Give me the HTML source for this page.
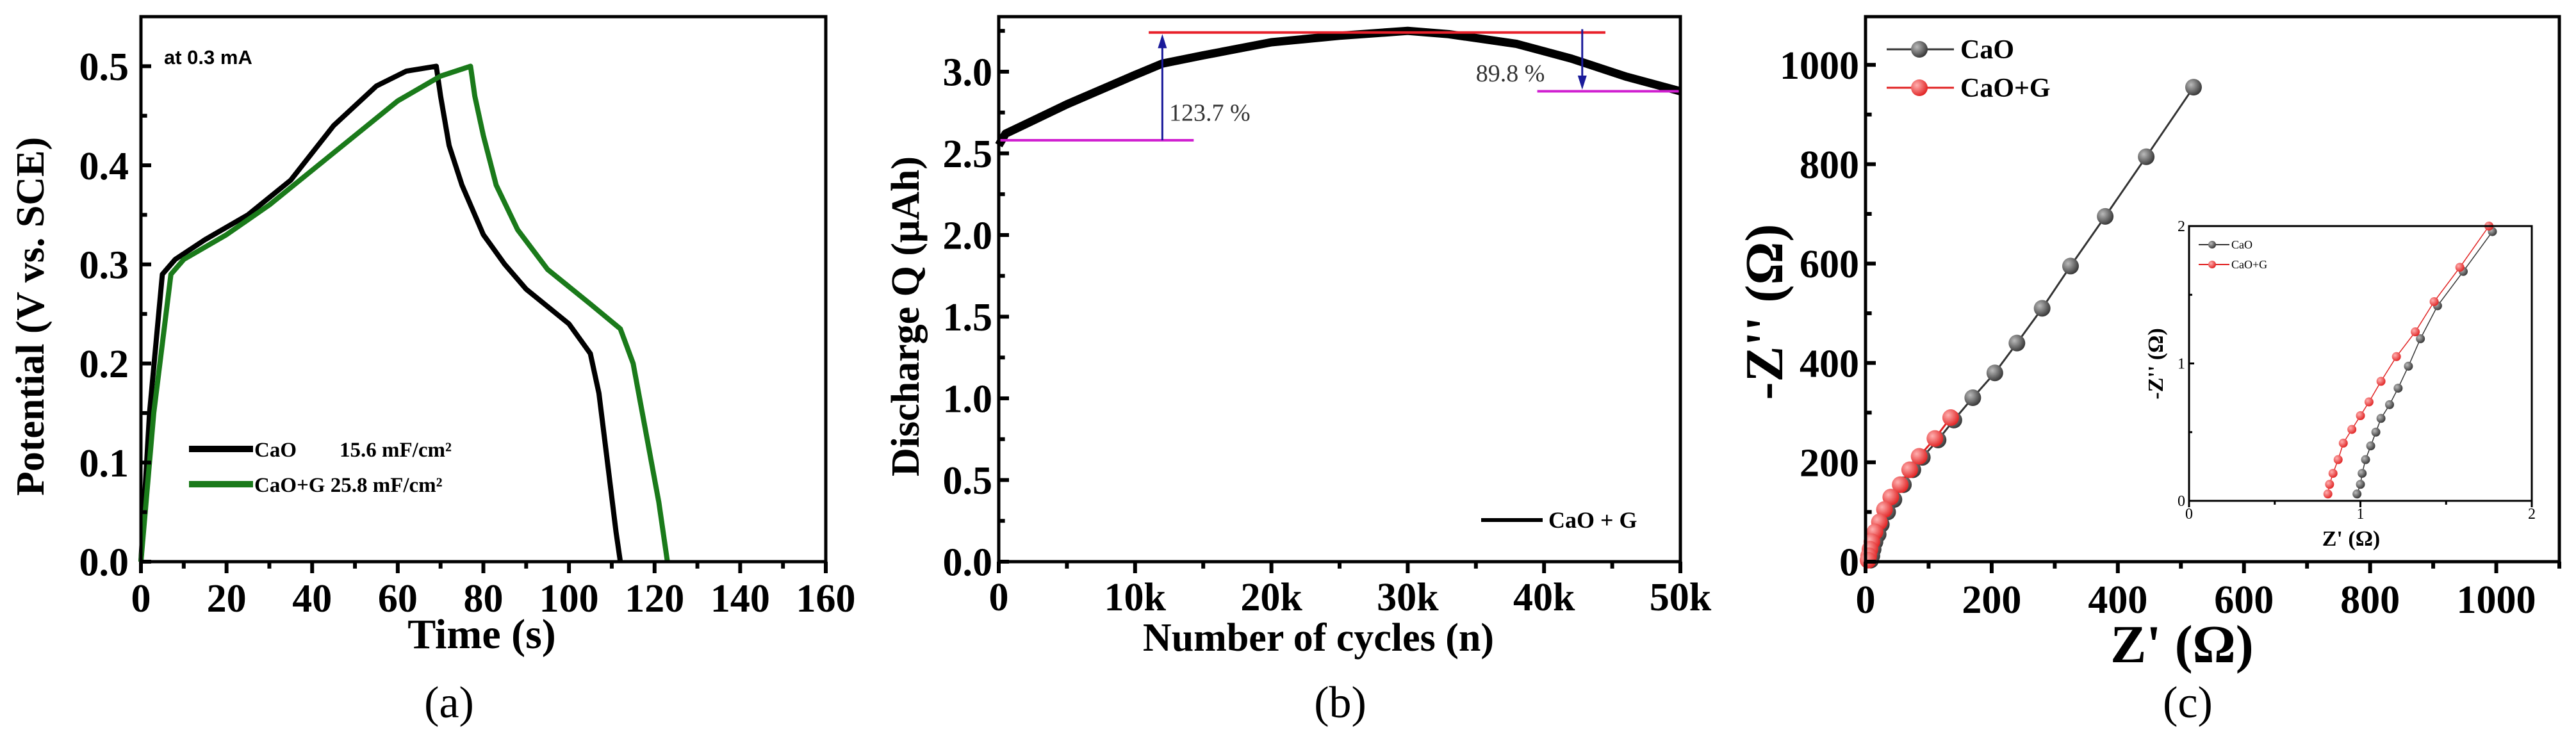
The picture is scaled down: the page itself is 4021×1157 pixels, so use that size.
<!DOCTYPE html>
<html><head><meta charset="utf-8">
<style>
html,body{margin:0;padding:0;background:#fff;}
svg{display:block;}
text{font-family:"Liberation Serif",serif;}
</style></head>
<body>
<svg id="fig" width="4021" height="1157" viewBox="0 0 4021 1157" xmlns="http://www.w3.org/2000/svg"></svg>
<script>
// ---------- Panel (a) data ----------
const aCaOT = [0,2,5,8,15,25,35,45,55,62,69,70,72,75,80,85,90,100,105,107,109,111,112];
const aCaOV = [0,0.15,0.29,0.305,0.325,0.35,0.385,0.44,0.48,0.495,0.5,0.47,0.42,0.38,0.33,0.30,0.275,0.24,0.21,0.17,0.10,0.03,0];
const aGT = [0,3,7,10,20,30,40,50,60,70,77,78,80,83,88,95,105,112,115,118,121,123];
const aGV = [0,0.15,0.29,0.305,0.33,0.36,0.395,0.43,0.465,0.49,0.5,0.47,0.43,0.38,0.335,0.295,0.26,0.235,0.20,0.13,0.06,0];
const aXTicks = [0,20,40,60,80,100,120,140,160];
const aYTicks = [0.0,0.1,0.2,0.3,0.4,0.5];
// ---------- Panel (b) data ----------
const bN = [0,500,2000,5000,10000,12000,15000,20000,25000,30000,33000,38000,42000,46000,50000];
const bQ = [2.55,2.62,2.68,2.80,2.98,3.05,3.10,3.18,3.22,3.25,3.23,3.17,3.08,2.97,2.88];
const bXTicks = [0,10000,20000,30000,40000,50000];
const bXLabels = ["0","10k","20k","30k","40k","50k"];
const bYTicks = [0.0,0.5,1.0,1.5,2.0,2.5,3.0];
// ---------- Panel (c) data ----------
const cCaOX = [520,445,380,325,280,240,205,170,140,115,90,75,60,45,35,25,20,15,12,10,8];
const cCaOY = [955,815,695,595,510,440,380,330,285,245,210,185,155,125,100,75,55,40,25,12,3];
const cGX = [135,110,85,70,55,40,30,22,15,10,7,5,4];
const cGY = [290,248,212,185,155,130,105,80,60,40,25,12,3];
const cXTicks = [0,200,400,600,800,1000];
const cYTicks = [0,200,400,600,800,1000];
const inCaOX = [0.98,1.0,1.01,1.03,1.06,1.09,1.12,1.17,1.22,1.28,1.35,1.45,1.6,1.77];
const inCaOY = [0.05,0.12,0.2,0.3,0.4,0.5,0.6,0.7,0.82,0.98,1.18,1.42,1.67,1.96];
const inGX = [0.81,0.82,0.84,0.87,0.9,0.95,1.0,1.05,1.12,1.21,1.32,1.43,1.58,1.75];
const inGY = [0.05,0.12,0.2,0.3,0.42,0.52,0.62,0.72,0.87,1.05,1.23,1.45,1.7,2.0];
const inTicks = [0,1,2];

const NS="http://www.w3.org/2000/svg";
const svg=document.getElementById('fig');
function el(tag,attrs,parent,txt){const e=document.createElementNS(NS,tag);for(const k in attrs)e.setAttribute(k,attrs[k]);if(txt!==undefined)e.textContent=txt;(parent||svg).appendChild(e);return e;}
function scale(d0,d1,r0,r1){return v=>r0+(v-d0)/(d1-d0)*(r1-r0);}
function poly(xs,ys,sx,sy){return xs.map((x,i)=>sx(x).toFixed(1)+','+sy(ys[i]).toFixed(1)).join(' ');}

function frame(g,L,R,T,B,sw){
  const r=el('rect',{x:L,y:T,width:R-L,height:B-T,fill:'none',stroke:'#000','stroke-width':sw},g);
  
  
}
function xTicks(g,vals,labels,sx,B,len,fs,dy,minor,sw){
  sw=sw||6;
  vals.forEach((v,i)=>{
    const t=el('line',{x1:sx(v),x2:sx(v),y1:B,y2:B+len,stroke:'#000','stroke-width':sw},g);
    
    
    const l=el('text',{x:sx(v),y:B+dy,'font-size':fs,'font-weight':'bold','text-anchor':'middle'},g,labels[i]);
    
    
  });
  (minor||[]).forEach(v=>{
    const t=el('line',{x1:sx(v),x2:sx(v),y1:B,y2:B+len*0.6,stroke:'#000','stroke-width':sw},g);
    
    
  });
}
function yTicks(g,vals,labels,sy,L,len,fs,dx,minor,sw){
  sw=sw||6;
  vals.forEach((v,i)=>{
    const t=el('line',{x1:L,x2:L+len,y1:sy(v),y2:sy(v),stroke:'#000','stroke-width':sw},g);
    
    
    const l=el('text',{x:L-dx,y:sy(v)+fs*0.35,'font-size':fs,'font-weight':'bold','text-anchor':'end'},g,labels[i]);
    
    
  });
  (minor||[]).forEach(v=>{
    const t=el('line',{x1:L,x2:L+len*0.6,y1:sy(v),y2:sy(v),stroke:'#000','stroke-width':sw},g);
    
    
  });
}

// ================= Panel (a) =================
{
 const g=el('g',{});
 
 
 const L=220,R=1289,T=26,B=877;
 const sx=scale(0,160,L,R), sy=scale(0,0.55,B,T);
 const p1=el('polyline',{points:poly(aCaOT,aCaOV,sx,sy),fill:'none',stroke:'#000','stroke-width':8,'stroke-linejoin':'round'},g);
 
 
 const p2=el('polyline',{points:poly(aGT,aGV,sx,sy),fill:'none',stroke:'#1a7a1a','stroke-width':8,'stroke-linejoin':'round'},g);
 
 
 frame(g,L,R,T,B,5);
 xTicks(g,aXTicks,aXTicks.map(String),sx,B,18,62,78,[10,30,50,70,90,110,130,150]);
 yTicks(g,aYTicks,aYTicks.map(v=>v.toFixed(1)),sy,L,16,62,19,[0.05,0.15,0.25,0.35,0.45]);
 const xt=el('text',{x:752,y:1012,'font-size':66,'font-weight':'bold','text-anchor':'middle'},g,'Time (s)');
 
 
 const yt=el('text',{x:0,y:0,'font-size':62,'font-weight':'bold','text-anchor':'middle',transform:'translate(68,494) rotate(-90)'},g,'Potential (V vs. SCE)');
 
 
 const an=el('text',{x:256,y:100,'font-size':31,'font-weight':'bold',style:'font-family:"Liberation Sans",sans-serif'},g,'at 0.3 mA');
 
 
 const l1=el('line',{x1:295,x2:395,y1:701,y2:701,stroke:'#000','stroke-width':10},g);
 
 
 const t1=el('text',{x:397,y:713,'font-size':33,'font-weight':'bold'},g,'CaO');
 
 
 const t1b=el('text',{x:530,y:713,'font-size':33,'font-weight':'bold'},g,'15.6 mF/cm²');
 
 
 const l2=el('line',{x1:295,x2:395,y1:756,y2:756,stroke:'#1a7a1a','stroke-width':10},g);
 
 
 const t2=el('text',{x:397,y:768,'font-size':33,'font-weight':'bold'},g,'CaO+G  25.8 mF/cm²');
 
 
 const cap=el('text',{x:701,y:1120,'font-size':70,'text-anchor':'middle'},g,'(a)');
 
 
}

// ================= Panel (b) =================
{
 const g=el('g',{});
 
 
 const L=1559,R=2623,T=26,B=877;
 const sx=scale(0,50000,L,R), sy=scale(0,3.337,B,T);
 const p=el('polyline',{points:poly(bN,bQ,sx,sy),fill:'none',stroke:'#000','stroke-width':13,'stroke-linejoin':'round'},g);
 
 
 const red=el('line',{x1:sx(11000),x2:sx(44500),y1:sy(3.24),y2:sy(3.24),stroke:'#e8202a','stroke-width':4},g);
 
 
 const m1=el('line',{x1:sx(0),x2:sx(14300),y1:sy(2.58),y2:sy(2.58),stroke:'#d020d0','stroke-width':4},g);
 
 
 const m2=el('line',{x1:sx(39500),x2:sx(50000),y1:sy(2.88),y2:sy(2.88),stroke:'#d020d0','stroke-width':4},g);
 
 
 const a1=el('line',{x1:sx(12000),x2:sx(12000),y1:sy(2.58),y2:sy(3.20),stroke:'#1a1a9a','stroke-width':3},g);
 
 
 const h1=el('polygon',{points:`${sx(12000)},${sy(3.23)} ${sx(12000)-7},${sy(3.23)+22} ${sx(12000)+7},${sy(3.23)+22}`,fill:'#1a1a9a'},g);
 
 
 const a2=el('line',{x1:sx(42800),x2:sx(42800),y1:sy(3.26),y2:sy(2.92),stroke:'#1a1a9a','stroke-width':3},g);
 
 
 const h2=el('polygon',{points:`${sx(42800)},${sy(2.89)} ${sx(42800)-7},${sy(2.89)-22} ${sx(42800)+7},${sy(2.89)-22}`,fill:'#1a1a9a'},g);
 
 
 const pa=el('text',{x:sx(12500),y:sy(2.70),'font-size':38,fill:'#333'},g,'123.7 %');
 
 
 const pb=el('text',{x:sx(35000),y:sy(2.94),'font-size':38,fill:'#333'},g,'89.8 %');
 
 
 frame(g,L,R,T,B,5);
 xTicks(g,bXTicks,bXLabels,sx,B,18,62,76,[5000,15000,25000,35000,45000]);
 yTicks(g,bYTicks,bYTicks.map(v=>v.toFixed(1)),sy,L,16,62,10,[0.25,0.75,1.25,1.75,2.25,2.75,3.25]);
 const xt=el('text',{x:2058,y:1016,'font-size':62,'font-weight':'bold','text-anchor':'middle'},g,'Number of cycles (n)');
 
 
 const yt=el('text',{x:0,y:0,'font-size':62,'font-weight':'bold','text-anchor':'middle',transform:'translate(1434,494) rotate(-90)'},g,'Discharge Q (μAh)');
 
 
 const ls=el('line',{x1:2312,x2:2408,y1:812,y2:812,stroke:'#000','stroke-width':6},g);
 
 
 const lt=el('text',{x:2417,y:824,'font-size':36,'font-weight':'bold'},g,'CaO + G');
 
 
 const cap=el('text',{x:2092,y:1120,'font-size':70,'text-anchor':'middle'},g,'(b)');
 
 
}

// ================= Panel (c) =================
{
 const g=el('g',{});
 
 
 const defs=el('defs',{},g);
 const gr1=el('radialGradient',{id:'gGrey',cx:'0.35',cy:'0.35',r:'0.7'},defs);
 el('stop',{offset:'0','stop-color':'#bbb'},gr1);el('stop',{offset:'1','stop-color':'#333'},gr1);
 const gr2=el('radialGradient',{id:'gRed',cx:'0.35',cy:'0.35',r:'0.7'},defs);
 el('stop',{offset:'0','stop-color':'#ffb0b0'},gr2);el('stop',{offset:'1','stop-color':'#e02020'},gr2);
 const L=2912,R=3995,T=26,B=877;
 const sx=scale(0,1100,L,R), sy=scale(0,1097,B,T);
 function series(xs,ys,sx,sy,col,fill,r,sw,name){
   const pl=el('polyline',{points:poly(xs,ys,sx,sy),fill:'none',stroke:col,'stroke-width':sw},g);
   
   
   xs.forEach((x,i)=>{
     const c=el('circle',{cx:sx(x),cy:sy(ys[i]),r:r,fill:fill},g);
     
     
   });
 }
 series(cCaOX,cCaOY,sx,sy,'#333','url(#gGrey)',13,3,'cao');
 series(cGX,cGY,sx,sy,'#e02020','url(#gRed)',13,3,'cao-g');
 frame(g,L,R,T,B,5);
 xTicks(g,cXTicks,cXTicks.map(String),sx,B,18,62,80,[100,300,500,700,900,1100]);
 yTicks(g,cYTicks,cYTicks.map(String),sy,L,16,62,10,[100,300,500,700,900]);
 const xt=el('text',{x:3406,y:1034,'font-size':84,'font-weight':'bold','text-anchor':'middle'},g,"Z' (Ω)");
 
 
 const yt=el('text',{x:0,y:0,'font-size':84,'font-weight':'bold','text-anchor':'middle',transform:'translate(2782,487) rotate(-90)'},g,"-Z'' (Ω)");
 
 
 const legs=[['CaO','#333','url(#gGrey)',77,'legend-cao'],['CaO+G','#e02020','url(#gRed)',137,'legend-cao-g']];
 legs.forEach(lg=>{
   const ln=el('line',{x1:2945,x2:3050,y1:lg[3],y2:lg[3],stroke:lg[1],'stroke-width':3},g);
   
   
   const c=el('circle',{cx:2996,cy:lg[3],r:13,fill:lg[2]},g);
   
   
   const t=el('text',{x:3060,y:lg[3]+14,'font-size':42,'font-weight':'bold'},g,lg[0]);
   
   
 });
 // inset
 const IL=3417,IR=3952,IT=353,IB=782;
 const ix=scale(0,2,IL,IR), iy=scale(0,2,IB,IT);
 const bg=el('rect',{x:IL,y:IT,width:IR-IL,height:IB-IT,fill:'#fff'},g);
 
 
 series(inCaOX,inCaOY,ix,iy,'#333','url(#gGrey)',7,1.5,'inset-cao');
 series(inGX,inGY,ix,iy,'#e02020','url(#gRed)',7,1.5,'inset-cao-g');
 frame(g,IL,IR,IT,IB,3);
 inTicks.forEach(v=>{
   const t=el('line',{x1:ix(v),x2:ix(v),y1:IB,y2:IB+10,stroke:'#000','stroke-width':3},g);
   
   
   const l=el('text',{x:ix(v),y:IB+28,'font-size':24,'text-anchor':'middle'},g,String(v));
   
   
   const t2=el('line',{x1:IL,x2:IL+8,y1:iy(v),y2:iy(v),stroke:'#000','stroke-width':3},g);
   
   
   const l2=el('text',{x:IL-6,y:iy(v)+8,'font-size':24,'text-anchor':'end'},g,String(v));
   
   
 });
 [0.5,1.5].forEach(v=>{
   const t=el('line',{x1:ix(v),x2:ix(v),y1:IB,y2:IB+6,stroke:'#000','stroke-width':3},g);
   
   
   const t2=el('line',{x1:IL,x2:IL+5,y1:iy(v),y2:iy(v),stroke:'#000','stroke-width':3},g);
   
   
 });
 const ixt=el('text',{x:3670,y:852,'font-size':34,'font-weight':'bold','text-anchor':'middle'},g,"Z' (Ω)");
 
 
 const iyt=el('text',{x:0,y:0,'font-size':34,'font-weight':'bold','text-anchor':'middle',transform:'translate(3376,568) rotate(-90)'},g,"-Z'' (Ω)");
 
 
 [['CaO','#333','url(#gGrey)',382,'inset-legend-cao'],['CaO+G','#e02020','url(#gRed)',413,'inset-legend-cao-g']].forEach(lg=>{
   const ln=el('line',{x1:3432,x2:3480,y1:lg[3],y2:lg[3],stroke:lg[1],'stroke-width':2},g);
   
   
   const c=el('circle',{cx:3453,cy:lg[3],r:6,fill:lg[2]},g);
   
   
   const t=el('text',{x:3483,y:lg[3]+6,'font-size':18},g,lg[0]);
   
   
 });
 const cap=el('text',{x:3415,y:1120,'font-size':70,'text-anchor':'middle'},g,'(c)');
 
 
}
</script>
</body></html>
